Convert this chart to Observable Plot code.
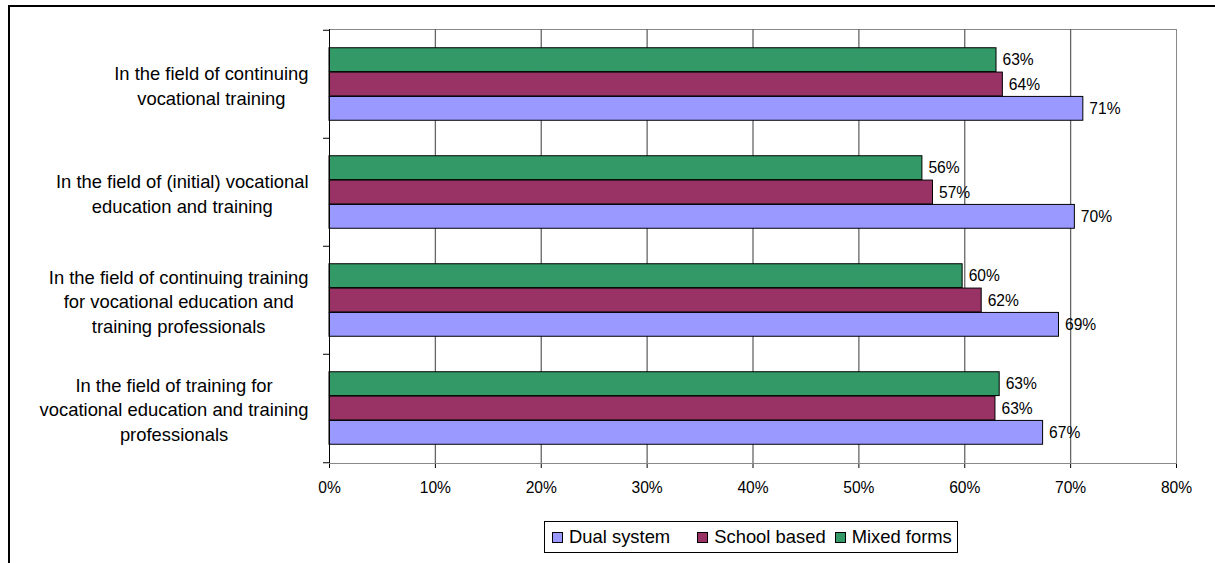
<!DOCTYPE html>
<html><head><meta charset="utf-8">
<script src="https://cdn.jsdelivr.net/npm/d3@7"></script>
<script src="https://cdn.jsdelivr.net/npm/@observablehq/plot@0.6"></script>
<style>
html,body{margin:0;padding:0;background:#fff;overflow:hidden;}
body{width:1215px;height:563px;position:relative;font-family:"Liberation Sans",Arial,sans-serif;color:#000;}
#frame{position:absolute;left:8px;top:5px;width:1400px;height:800px;border:2px solid #000;box-sizing:border-box;}
#chart{position:absolute;left:0;top:0;}
#legend{position:absolute;left:544px;top:521px;width:414px;height:32px;border:1px solid #000;box-sizing:border-box;display:flex;align-items:center;padding-left:7px;font-size:18.4px;background:#fff;}
#legend .sw{width:11px;height:11px;border:1px solid #000;box-sizing:border-box;margin-right:6px;flex:none;}
#legend .it{display:flex;align-items:center;white-space:nowrap;}
</style>
</head><body>
<div id="frame"></div>
<div id="chart"></div>
<div id="legend"></div>
<script>
const categories = [
  "In the field of continuing\nvocational training",
  "In the field of (initial) vocational\neducation and training",
  "In the field of continuing training\nfor vocational education and\ntraining professionals",
  "In the field of training for\nvocational education and training\nprofessionals"
];
const series = ["Dual system", "School based", "Mixed forms"];
const dualSystem  = [71.2, 70.4, 68.9, 67.4];
const schoolBased = [63.6, 57.0, 61.6, 62.9];
const mixedForms  = [63.0, 56.0, 59.8, 63.3];
const xTicks = [0, 10, 20, 30, 40, 50, 60, 70, 80];
const colors = ["#9999FF", "#993366", "#339966"];

const seriesValues = [dualSystem, schoolBased, mixedForms];
const rows = [];
series.forEach((s, si) => categories.forEach((c, ci) => rows.push({category: c, series: s, value: seriesValues[si][ci]})));

const W = 1215, H = 510, mL = 329, mR = 39, mT = 29, mB = 47;
const band = (H - mT - mB) / categories.length;
const barH = band * 0.2243;
const pad = (band - 3 * barH) / 2;
// top to bottom within a band: Mixed forms, School based, Dual system
const order = {"Mixed forms": 0, "School based": 1, "Dual system": 2};
const FONT = '"Liberation Sans", Arial, sans-serif';

const cv = document.createElement("canvas").getContext("2d");
cv.font = "18.4px " + FONT;
const maxW = c => Math.max(...c.split("\n").map(l => cv.measureText(l).width));

const marks = [
  Plot.frame({stroke: "#888"}),
  Plot.ruleX(xTicks.filter(t => t > 0 && t < 80), {stroke: "#666", strokeWidth: 1.3}),
];
series.forEach((s, si) => {
  const k = order[s];
  marks.push(Plot.barX(rows.filter(d => d.series === s), {
    x: "value", y: "category", fill: colors[si], stroke: "#000", strokeWidth: 1,
    insetTop: pad + k * barH, insetBottom: band - pad - (k + 1) * barH
  }));
  marks.push(Plot.text(rows.filter(d => d.series === s), {
    x: "value", y: "category", text: d => Math.round(d.value) + "%",
    dx: 6, dy: (k - 1) * barH, textAnchor: "start", fontSize: 15.6, fill: "#000"
  }));
});
marks.push(Plot.ruleX([0], {stroke: "#000"}));
marks.push(Plot.ruleY(categories, {y: d => d, x1: 0, x2: 0, insetLeft: -6, dy: -band / 2, stroke: "#000"}));
marks.push(Plot.ruleY([categories[categories.length - 1]], {y: d => d, x1: 0, x2: 0, insetLeft: -6, dy: band / 2, stroke: "#000"}));
categories.forEach(c => {
  marks.push(Plot.text([c], {
    y: d => d, frameAnchor: "left", text: d => d, textAnchor: "middle", lineAnchor: "middle",
    lineHeight: 1.33, fontSize: 18.4, fill: "#000", dx: -(21 + maxW(c) / 2)
  }));
});

const chart = Plot.plot({
  width: W, height: H, marginLeft: mL, marginRight: mR, marginTop: mT, marginBottom: mB,
  style: {fontFamily: FONT, fontSize: "15.6px", color: "#000", background: "transparent"},
  x: {domain: [0, 80], ticks: xTicks, tickFormat: d => d + "%", tickSize: 5, tickPadding: 13, label: null, line: true},
  y: {type: "band", domain: categories, padding: 0, axis: null},
  marks
});
document.getElementById("chart").appendChild(chart);

const lg = document.getElementById("legend");
const gaps = [27, 9, 0];
series.forEach((s, i) => {
  const it = document.createElement("div");
  it.className = "it";
  it.style.marginRight = gaps[i] + "px";
  const sw = document.createElement("div");
  sw.className = "sw";
  sw.style.background = colors[i];
  const tx = document.createElement("span");
  tx.textContent = s;
  it.appendChild(sw); it.appendChild(tx);
  lg.appendChild(it);
});
</script>
</body></html>
